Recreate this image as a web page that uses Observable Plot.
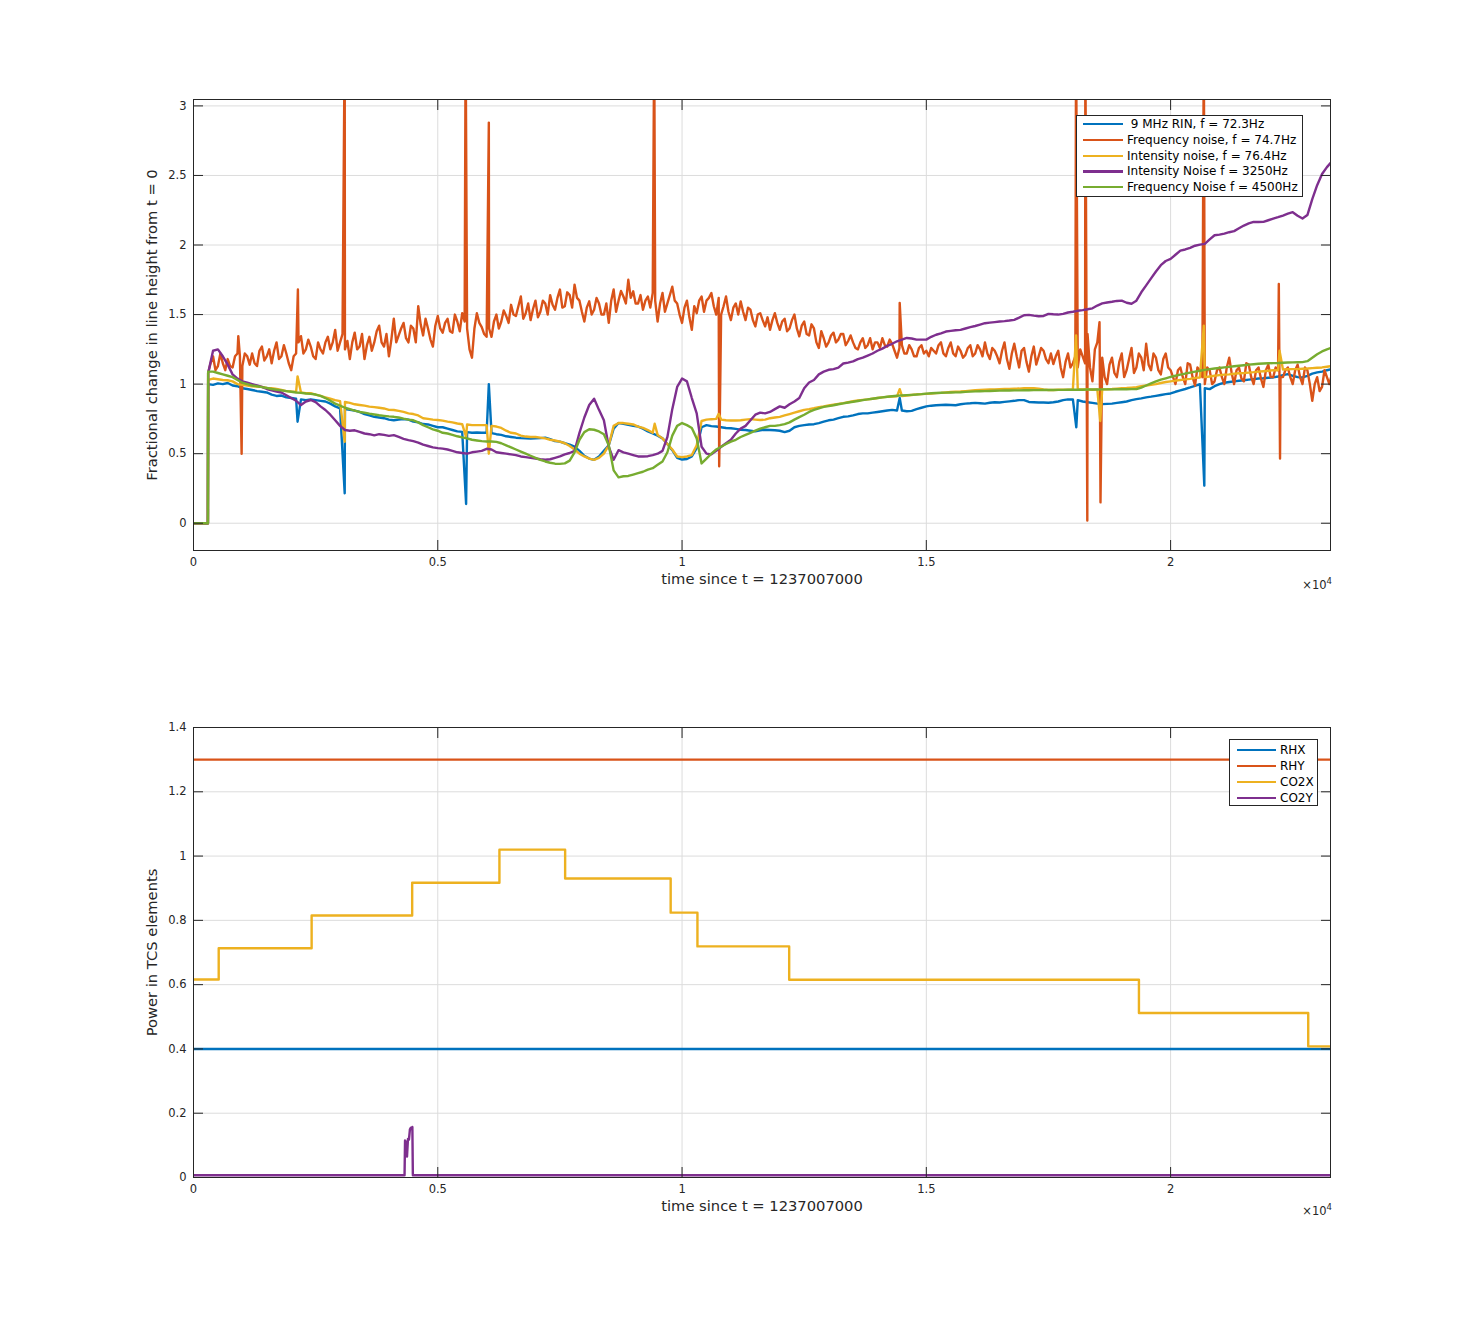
<!DOCTYPE html>
<html><head><meta charset="utf-8">
<script src="https://cdn.jsdelivr.net/npm/d3@7"></script>
<script src="https://cdn.jsdelivr.net/npm/@observablehq/plot@0.6"></script>
<style>
body{margin:0;background:#fff;}
#wrap{position:relative;width:1471px;height:1323px;font-family:"DejaVu Sans",sans-serif;color:#262626;overflow:hidden;}
.chart{position:absolute;left:0;}
.legend{position:absolute;background:#fff;border:1px solid #262626;box-sizing:border-box;font-size:12px;color:#000;}
.legend .row{position:absolute;left:0;right:0;height:16px;}
.legend .sw{position:absolute;top:7px;height:2.4px;}
.legend .lab{position:absolute;top:0;line-height:16px;white-space:pre;}
.expo{position:absolute;font-size:11.5px;color:#262626;white-space:nowrap;}
.expo sup{font-size:8.5px;}
</style></head>
<body><div id="wrap"></div>
<script>
// ---------- shared axis data ----------
const tStep = 100;          // sampling interval of the top-panel series (s)
const xMax = 23273;
const xTicks = [0, 5000, 10000, 15000, 20000];
const yTicksTop = [0, 0.5, 1, 1.5, 2, 2.5, 3];
const yTicksBottom = [0, 0.2, 0.4, 0.6, 0.8, 1, 1.2, 1.4];
const xLabel = "time since t = 1237007000";
const yLabelTop = "Fractional change in line height from t = 0";
const yLabelBottom = "Power in TCS elements";

// ---------- top panel series (one value per 100 s) ----------
const rinVals = [
0,0,0,1.0,0.995,1.005,1.0,1.008,0.99,0.985,
0.97,0.965,0.958,0.95,0.945,0.94,0.925,0.915,0.918,0.905,
0.9,0.895,0.89,0.885,0.89,0.885,0.88,0.875,0.86,0.84,
0.826,0.82,0.815,0.81,0.8,0.785,0.775,0.765,0.76,0.755,
0.745,0.74,0.745,0.748,0.745,0.73,0.725,0.713,0.71,0.7,
0.69,0.69,0.68,0.67,0.66,0.657,0.655,0.65,0.652,0.65,
0.65,0.648,0.64,0.635,0.625,0.62,0.615,0.612,0.61,0.608,
0.61,0.612,0.615,0.605,0.59,0.587,0.575,0.565,0.55,0.52,
0.485,0.465,0.456,0.48,0.52,0.56,0.68,0.72,0.715,0.707,
0.7,0.695,0.68,0.66,0.645,0.63,0.61,0.57,0.525,0.47,
0.458,0.462,0.48,0.54,0.69,0.705,0.698,0.695,0.69,0.685,
0.683,0.678,0.672,0.67,0.665,0.66,0.668,0.672,0.67,0.668,
0.665,0.655,0.665,0.69,0.7,0.705,0.71,0.712,0.72,0.73,
0.74,0.745,0.755,0.765,0.768,0.775,0.785,0.79,0.79,0.795,
0.8,0.805,0.81,0.815,0.81,0.81,0.805,0.808,0.82,0.83,
0.84,0.845,0.848,0.85,0.852,0.85,0.848,0.855,0.86,0.862,
0.865,0.863,0.86,0.866,0.87,0.868,0.872,0.876,0.88,0.885,
0.885,0.872,0.87,0.868,0.868,0.866,0.87,0.875,0.885,0.89,
0.89,0.885,0.875,0.87,0.865,0.86,0.856,0.858,0.86,0.865,
0.87,0.875,0.885,0.892,0.898,0.905,0.91,0.916,0.922,0.928,
0.933,0.945,0.955,0.965,0.976,0.988,1.0,0.97,0.964,0.985,
1.0,1.01,1.015,1.02,1.024,1.028,1.032,1.036,1.04,1.042,
1.046,1.048,1.055,1.065,1.072,1.06,1.05,1.048,1.06,1.075,
1.084,1.09,1.1,1.108];
const rinSpikes = [[295,0],[2130,0.73],[3095,0.215],[5580,0.138],[6045,1.0],[14455,0.9],[18070,0.69],[20690,0.27]];

const freqVals = [
0,0,0,1.08,1.2,1.13,1.15,1.18,1.12,1.22,
1.13,1.2,1.22,1.13,1.27,1.2,1.15,1.3,1.2,1.22,
1.1,1.22,1.345,1.25,1.27,1.18,1.25,1.3,1.25,1.39,
1.3,1.25,1.18,1.37,1.27,1.18,1.34,1.3,1.42,1.27,
1.2,1.47,1.35,1.44,1.3,1.4,1.56,1.35,1.4,1.27,
1.49,1.37,1.47,1.37,1.45,1.51,1.4,1.19,1.51,1.41,
1.34,1.34,1.5,1.45,1.49,1.57,1.49,1.63,1.51,1.46,
1.6,1.52,1.58,1.64,1.535,1.68,1.56,1.64,1.715,1.6,
1.45,1.595,1.535,1.58,1.5,1.44,1.68,1.6,1.63,1.75,
1.667,1.58,1.535,1.63,1.655,1.45,1.655,1.58,1.7,1.58,
1.44,1.6,1.39,1.51,1.63,1.6,1.655,1.5,1.5,1.63,
1.46,1.58,1.595,1.46,1.535,1.415,1.51,1.415,1.39,1.51,
1.39,1.47,1.4,1.5,1.344,1.45,1.35,1.4,1.26,1.33,
1.3,1.37,1.32,1.36,1.31,1.3,1.25,1.33,1.28,1.25,
1.3,1.33,1.27,1.29,1.19,1.28,1.22,1.25,1.2,1.28,
1.24,1.26,1.22,1.3,1.2,1.3,1.2,1.24,1.21,1.28,
1.22,1.25,1.3,1.18,1.24,1.15,1.3,1.11,1.29,1.12,
1.26,1.09,1.27,1.2,1.24,1.15,1.144,1.24,1.05,1.22,
1.15,1.12,1.2,1.36,1.02,1.3,1.19,1.0,1.19,1.05,
1.22,1.1,1.26,1.12,1.19,1.29,1.1,1.19,1.07,1.22,
1.1,1.0,1.12,1.0,1.14,0.99,1.1,1.0,1.1,1.02,
1.12,1.0,1.19,1.0,1.12,1.02,1.14,1.0,1.12,0.98,
1.14,1.05,1.1,1.05,1.12,1.0,1.14,1.0,1.1,0.88,
1.05,0.98,1.05,1.07];
// readings half-way between the 100 s samples (t = 50, 150, ...)
const freqMidVals = [
0,0,0,1.15,1.1,1.22,1.1,1.13,1.2,1.2,
1.22,1.14,1.15,1.24,1.17,1.25,1.24,1.18,1.28,1.15,
1.2,1.3,1.22,1.32,1.2,1.3,1.22,1.34,1.3,1.24,
1.36,1.31,1.3,1.25,1.36,1.28,1.24,1.38,1.3,1.36,
1.32,1.3,1.4,1.33,1.42,1.3,1.43,1.47,1.32,1.42,
1.4,1.44,1.38,1.5,1.38,1.45,1.25,1.4,1.44,1.36,
1.4,1.45,1.4,1.53,1.44,1.5,1.56,1.47,1.58,1.54,
1.48,1.6,1.5,1.57,1.62,1.55,1.66,1.55,1.62,1.52,
1.55,1.5,1.62,1.5,1.58,1.6,1.52,1.67,1.58,1.62,
1.58,1.64,1.6,1.55,1.6,1.58,1.52,1.64,1.6,1.5,
1.55,1.48,1.56,1.6,1.52,1.62,1.56,1.62,1.56,1.52,
1.55,1.5,1.52,1.55,1.46,1.5,1.46,1.48,1.46,1.44,
1.45,1.38,1.46,1.4,1.42,1.36,1.43,1.3,1.38,1.27,
1.35,1.3,1.36,1.28,1.35,1.26,1.3,1.26,1.33,1.3,
1.26,1.28,1.32,1.24,1.26,1.22,1.28,1.2,1.26,1.22,
1.2,1.24,1.28,1.22,1.26,1.22,1.27,1.19,1.26,1.2,
1.28,1.2,1.22,1.26,1.2,1.24,1.18,1.22,1.2,1.24,
1.16,1.2,1.14,1.26,1.18,1.22,1.2,1.12,1.16,1.12,
1.2,1.25,1.15,1.12,1.25,1.2,1.05,1.14,1.08,1.16,
1.05,1.18,1.08,1.22,1.1,1.14,1.22,1.1,1.18,1.12,
1.05,1.1,1.05,1.15,1.05,1.12,1.05,1.12,1.0,1.1,
1.05,1.12,1.08,1.1,1.04,1.15,1.05,1.1,1.04,1.1,
1.05,1.12,1.05,1.1,1.05,1.1,1.05,1.12,1.0,1.0,
0.95,1.1,1.0];
const freqSpikes = [[295,0],[917,1.345],[985,0.5],[2137,1.68],[3095,3.5],[5570,3.5],[6045,2.88],[9430,3.5],[10760,0.41],[14455,1.584],[18065,3.5],[18255,3.5],[18295,0.02],[18545,1.445],[18565,0.15],[20680,3.5],[22215,1.72],[22240,0.465]];

const intVals = [
0,0,0,1.03,1.04,1.035,1.03,1.028,1.02,1.0,
0.995,0.99,0.985,0.983,0.98,0.972,0.97,0.965,0.958,0.95,
0.947,0.945,0.94,0.935,0.935,0.925,0.915,0.905,0.895,0.885,
0.878,0.872,0.865,0.855,0.85,0.845,0.838,0.835,0.83,0.825,
0.815,0.814,0.808,0.8,0.79,0.785,0.775,0.755,0.75,0.745,
0.742,0.738,0.73,0.725,0.717,0.712,0.71,0.705,0.705,0.705,
0.705,0.7,0.695,0.685,0.665,0.65,0.645,0.63,0.623,0.62,
0.62,0.615,0.61,0.6,0.595,0.587,0.575,0.555,0.53,0.5,
0.48,0.465,0.456,0.47,0.5,0.56,0.7,0.72,0.72,0.715,
0.71,0.695,0.685,0.67,0.65,0.635,0.61,0.57,0.53,0.48,
0.475,0.48,0.49,0.56,0.735,0.745,0.748,0.75,0.745,0.74,
0.738,0.738,0.74,0.745,0.748,0.745,0.742,0.745,0.755,0.76,
0.765,0.775,0.785,0.795,0.805,0.815,0.82,0.827,0.835,0.84,
0.846,0.852,0.858,0.863,0.87,0.877,0.883,0.887,0.89,0.895,
0.9,0.905,0.908,0.911,0.912,0.915,0.918,0.922,0.926,0.928,
0.93,0.932,0.935,0.937,0.94,0.943,0.945,0.947,0.95,0.953,
0.956,0.958,0.96,0.961,0.962,0.964,0.965,0.966,0.967,0.968,
0.97,0.97,0.97,0.968,0.962,0.958,0.958,0.96,0.96,0.96,
0.962,0.962,0.962,0.962,0.96,0.962,0.962,0.963,0.965,0.968,
0.97,0.972,0.975,0.978,0.985,0.99,0.995,1.0,1.008,1.015,
1.02,1.025,1.03,1.034,1.038,1.045,1.048,1.05,1.055,1.06,
1.065,1.068,1.07,1.075,1.078,1.08,1.083,1.086,1.09,1.093,
1.096,1.1,1.1,1.105,1.107,1.108,1.108,1.11,1.112,1.115,
1.118,1.12,1.125,1.13];
const intSpikes = [[295,0],[2130,1.056],[3095,0.585],[5580,0.62],[6045,0.5],[9440,0.715],[10750,0.786],[14455,0.964],[18065,1.35],[18560,0.735],[20680,1.42],[22230,1.24]];

const int3250Vals = [
0,0,0,1.08,1.24,1.25,1.2,1.14,1.07,1.04,
1.02,1.01,1.0,0.99,0.98,0.965,0.955,0.947,0.94,0.92,
0.9,0.88,0.85,0.875,0.886,0.87,0.84,0.814,0.78,0.74,
0.7,0.67,0.665,0.668,0.657,0.645,0.64,0.632,0.64,0.635,
0.628,0.633,0.62,0.607,0.598,0.59,0.58,0.565,0.555,0.545,
0.54,0.536,0.53,0.52,0.51,0.505,0.5,0.51,0.515,0.52,
0.535,0.53,0.51,0.505,0.5,0.495,0.49,0.48,0.475,0.47,
0.465,0.46,0.456,0.46,0.47,0.48,0.495,0.505,0.52,0.65,
0.76,0.85,0.895,0.815,0.74,0.55,0.456,0.525,0.51,0.5,
0.49,0.48,0.48,0.482,0.49,0.5,0.52,0.62,0.82,0.98,
1.04,1.02,0.9,0.79,0.55,0.5,0.495,0.52,0.55,0.575,
0.6,0.645,0.68,0.7,0.74,0.78,0.795,0.79,0.8,0.82,
0.84,0.83,0.855,0.875,0.9,0.97,1.012,1.03,1.07,1.09,
1.103,1.108,1.118,1.148,1.155,1.163,1.18,1.19,1.205,1.22,
1.24,1.255,1.275,1.29,1.308,1.32,1.332,1.328,1.32,1.32,
1.32,1.34,1.355,1.365,1.378,1.383,1.387,1.39,1.4,1.41,
1.418,1.428,1.438,1.442,1.446,1.45,1.453,1.457,1.462,1.478,
1.495,1.498,1.492,1.488,1.49,1.505,1.502,1.5,1.505,1.515,
1.52,1.527,1.532,1.538,1.545,1.565,1.58,1.587,1.592,1.598,
1.6,1.585,1.578,1.6,1.66,1.71,1.76,1.81,1.855,1.885,
1.9,1.93,1.96,1.968,1.98,1.995,2.003,2.008,2.04,2.07,
2.075,2.082,2.092,2.1,2.12,2.14,2.155,2.166,2.165,2.166,
2.178,2.19,2.2,2.212,2.225,2.236,2.21,2.19,2.215,2.33,
2.43,2.51,2.56,2.6];
const int3250Spikes = [[295,0]];

const freq4500Vals = [
0,0,0,1.09,1.09,1.08,1.07,1.06,1.05,1.03,
1.01,1.0,0.99,0.985,0.978,0.972,0.965,0.96,0.955,0.95,
0.945,0.94,0.937,0.933,0.93,0.925,0.915,0.9,0.88,0.86,
0.845,0.83,0.82,0.81,0.8,0.795,0.788,0.782,0.776,0.772,
0.768,0.765,0.76,0.752,0.745,0.74,0.725,0.705,0.69,0.675,
0.665,0.65,0.645,0.635,0.625,0.617,0.61,0.6,0.595,0.59,
0.588,0.588,0.585,0.575,0.56,0.545,0.53,0.515,0.5,0.485,
0.47,0.455,0.444,0.435,0.428,0.427,0.43,0.45,0.51,0.6,
0.655,0.676,0.672,0.66,0.64,0.56,0.38,0.33,0.338,0.34,
0.35,0.36,0.37,0.385,0.396,0.42,0.444,0.51,0.63,0.7,
0.72,0.705,0.685,0.61,0.43,0.465,0.5,0.53,0.55,0.57,
0.587,0.6,0.62,0.635,0.65,0.665,0.68,0.69,0.7,0.7,
0.705,0.712,0.725,0.745,0.763,0.78,0.8,0.815,0.826,0.836,
0.842,0.848,0.855,0.862,0.868,0.873,0.879,0.885,0.89,0.895,
0.9,0.905,0.909,0.913,0.916,0.919,0.921,0.923,0.925,0.928,
0.932,0.934,0.936,0.938,0.939,0.94,0.941,0.942,0.944,0.946,
0.948,0.949,0.95,0.951,0.952,0.953,0.954,0.954,0.955,0.955,
0.956,0.956,0.957,0.957,0.958,0.958,0.958,0.959,0.959,0.96,
0.96,0.96,0.96,0.961,0.961,0.961,0.962,0.962,0.962,0.963,
0.963,0.963,0.964,0.964,0.975,0.99,1.005,1.02,1.032,1.042,
1.052,1.06,1.068,1.076,1.083,1.09,1.096,1.102,1.108,1.112,
1.116,1.12,1.124,1.128,1.132,1.136,1.14,1.143,1.146,1.148,
1.15,1.151,1.152,1.154,1.155,1.156,1.157,1.158,1.165,1.19,
1.215,1.235,1.25,1.262];
const freq4500Spikes = [[295,0]];

// ---------- bottom panel series ----------
const rhxTimes = [0, xMax], rhxVals = [0.4, 0.4];
const rhyTimes = [0, xMax], rhyVals = [1.3, 1.3];
const co2xTimes = [0, 516, 2418, 4476, 6262, 7607, 9767, 10315, 12193, 19352, 22817, xMax];
const co2xVals  = [0.616, 0.713, 0.815, 0.917, 1.02, 0.93, 0.824, 0.719, 0.615, 0.512, 0.408, 0.408];
const co2yTimes = [0, 4320, 4330, 4350, 4370, 4390, 4410, 4430, 4450, 4470, 4480, 4490, xMax];
const co2yVals  = [0.007, 0.007, 0.115, 0.11, 0.065, 0.12, 0.118, 0.15, 0.155, 0.15, 0.157, 0.007, 0.007];

const C = {blue:"#0072BD", orange:"#D95319", yellow:"#EDB120", purple:"#7E2F8E", green:"#77AC30"};

const topSeries = [
  {name:" 9 MHz RIN, f = 72.3Hz", color:C.blue, vals:rinVals, spikes:rinSpikes},
  {name:"Frequency noise, f = 74.7Hz", color:C.orange, vals:freqVals, mids:freqMidVals, spikes:freqSpikes},
  {name:"Intensity noise, f = 76.4Hz", color:C.yellow, vals:intVals, spikes:intSpikes},
  {name:"Intensity Noise f = 3250Hz", color:C.purple, vals:int3250Vals, spikes:int3250Spikes},
  {name:"Frequency Noise f = 4500Hz", color:C.green, vals:freq4500Vals, spikes:freq4500Spikes}
];
const bottomSeries = [
  {name:"RHX", color:C.blue, times:rhxTimes, vals:rhxVals, curve:"linear"},
  {name:"RHY", color:C.orange, times:rhyTimes, vals:rhyVals, curve:"linear"},
  {name:"CO2X", color:C.yellow, times:co2xTimes, vals:co2xVals, curve:"step-after"},
  {name:"CO2Y", color:C.purple, times:co2yTimes, vals:co2yVals, curve:"linear"}
];

function gridRows(s) {
  const rows = s.vals.map((v, i) => ({t: i * tStep, v}));
  if (s.mids) s.mids.forEach((v, i) => rows.push({t: i * tStep + tStep / 2, v}));
  for (const [t, v] of s.spikes) rows.push({t, v});
  rows.sort((a, b) => a.t - b.t);
  return rows;
}

const gridStyle = {stroke:"#dcdcdc", strokeOpacity:1, strokeWidth:1};
const fmtX = d => String(d / 1e4);
const fmtY = d => String(+d.toFixed(2));
const LW = 2.4;

function frameMarks(yTicks, yLabel) {
  return [
    Plot.frame({stroke:"#262626", strokeWidth:1}),
    Plot.axisX(xTicks, {anchor:"bottom", tickSize:-10, tickPadding:17, tickFormat:fmtX, fontSize:11.5, stroke:"#262626", label:null}),
    Plot.axisX(xTicks, {anchor:"top", tickSize:-10, tickFormat:() => "", stroke:"#262626", label:null}),
    Plot.axisY(yTicks, {anchor:"left", tickSize:-10, tickPadding:17, tickFormat:fmtY, fontSize:11.5, stroke:"#262626", label:null}),
    Plot.axisY(yTicks, {anchor:"right", tickSize:-10, tickFormat:() => "", stroke:"#262626", label:null}),
    Plot.text([xLabel], {frameAnchor:"bottom", dy:33, fontSize:14.7, textAnchor:"middle"}),
    Plot.text([yLabel], {frameAnchor:"left", rotate:-90, dx:-41, fontSize:14.7, textAnchor:"middle"})
  ];
}

const topChart = Plot.plot({
  width:1471, height:660,
  marginLeft:193, marginRight:141, marginTop:99, marginBottom:110,
  x:{domain:[0, xMax]},
  y:{domain:[-0.196, 3.046]},
  style:{fontFamily:"DejaVu Sans", fontSize:"11px", color:"#262626", background:"white"},
  marks:[
    Plot.gridX(xTicks, gridStyle),
    Plot.gridY(yTicksTop, gridStyle),
    ...topSeries.map(s => Plot.line(gridRows(s), {x:"t", y:"v", stroke:s.color, strokeWidth:LW, clip:true})),
    ...frameMarks(yTicksTop, yLabelTop)
  ]
});

const bottomChart = Plot.plot({
  width:1471, height:663,
  marginLeft:193, marginRight:141, marginTop:67, marginBottom:146,
  x:{domain:[0, xMax]},
  y:{domain:[0, 1.4]},
  style:{fontFamily:"DejaVu Sans", fontSize:"11px", color:"#262626", background:"white"},
  marks:[
    Plot.gridX(xTicks, gridStyle),
    Plot.gridY(yTicksBottom, gridStyle),
    ...bottomSeries.map(s => Plot.line(s.times.map((t, i) => ({t, v:s.vals[i]})), {x:"t", y:"v", stroke:s.color, strokeWidth:LW, curve:s.curve, clip:true})),
    ...frameMarks(yTicksBottom, yLabelBottom)
  ]
});

const wrap = document.getElementById("wrap");
topChart.classList.add("chart"); topChart.style.top = "0px";
bottomChart.classList.add("chart"); bottomChart.style.top = "660px";
wrap.appendChild(topChart);
wrap.appendChild(bottomChart);

function legend(series, box, first, step, lineLeft, lineW, textLeft) {
  const d = document.createElement("div");
  d.className = "legend";
  Object.assign(d.style, {left:box[0]+"px", top:box[1]+"px", width:box[2]+"px", height:box[3]+"px"});
  series.forEach((s, i) => {
    const r = document.createElement("div");
    r.className = "row";
    r.style.top = (first + i * step - 8) + "px";
    const sw = document.createElement("div");
    sw.className = "sw";
    Object.assign(sw.style, {left:lineLeft+"px", width:lineW+"px", background:s.color});
    const lab = document.createElement("span");
    lab.className = "lab";
    lab.style.left = textLeft + "px";
    lab.textContent = s.name;
    r.appendChild(sw); r.appendChild(lab);
    d.appendChild(r);
  });
  wrap.appendChild(d);
}
legend(topSeries, [1076, 115, 227, 82], 8, 15.75, 6, 40, 50);
legend(bottomSeries, [1229, 739, 89, 67], 10, 15.9, 7, 39, 50);

function expo(yPos) {
  const e = document.createElement("div");
  e.className = "expo";
  e.innerHTML = "×10<sup>4</sup>";
  e.style.right = (1471 - 1332) + "px";
  e.style.top = yPos + "px";
  wrap.appendChild(e);
}
expo(576);
expo(1202);
</script></body></html>
